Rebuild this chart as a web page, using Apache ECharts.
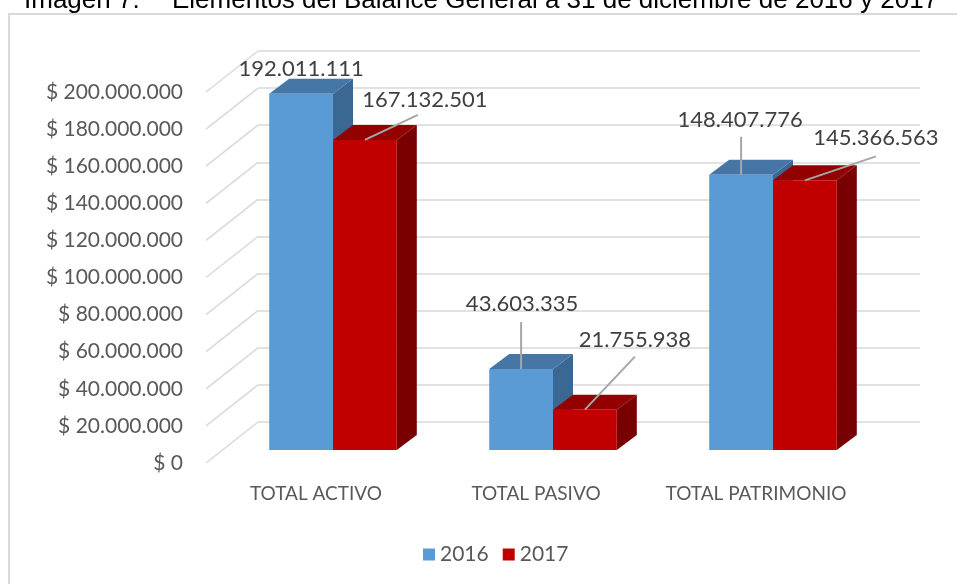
<!DOCTYPE html>
<html>
<head>
<meta charset="utf-8">
<script src="https://cdn.jsdelivr.net/npm/echarts@6/dist/echarts.min.js"></script>
<style>
  html, body { margin: 0; padding: 0; background: #fff; }
  #chart { width: 957px; height: 584px; }
</style>
</head>
<body>
<div id="chart"></div>
<script>
var categories = ["TOTAL ACTIVO", "TOTAL PASIVO", "TOTAL PATRIMONIO"];
var years = ["2016", "2017"];
var values2016 = [192011111, 43603335, 148407776];
var values2017 = [167132501, 21755938, 145366563];
var yTicks = [0, 20000000, 40000000, 60000000, 80000000, 100000000,
  120000000, 140000000, 160000000, 180000000, 200000000];

var FONT = "Lato, 'Noto Sans', sans-serif";
// fake 3d: offsets of the back wall, bar front face and bar depth
var WALL_DX = 52, WALL_DY = -41;
var BAR_DX = 17, BAR_DY = -13;
var DEPTH_DX = 20, DEPTH_DY = -15;
// label placement per bar: [labelDx, labelDy, lineDx, lineDy] from front-top centre
var labelPos2016 = [[0, -25, 0, 0], [1, -65, 0, -47], [-1, -55, 0, -38]];
var labelPos2017 = [[60, -40, 53, -25], [50, -70, 50, -53], [71, -42, 71, -24]];

var blueFaces = { front: "#5B9BD5", top: "#4576A6", side: "#3B6793" };
var redFaces = { front: "#C00000", top: "#920000", side: "#780000" };

function fmt(v) {
  return String(v).replace(/\B(?=(\d{3})+(?!\d))/g, ".");
}

function barRenderer(side, faces, labelPos) {
  return function (params, api) {
    var idx = api.value(0), val = api.value(1);
    var top = api.coord([idx, val]);
    var base = api.coord([idx, 0]);
    var band = api.size([1, 0])[0];
    var w = band * 0.29;
    var x0 = top[0] + (side < 0 ? -w : 0) + BAR_DX;
    var x1 = x0 + w;
    var yt = top[1] + BAR_DY, yb = base[1] + BAR_DY;
    var kids = [
      { type: "polygon", shape: { points: [[x1, yb], [x1 + DEPTH_DX, yb + DEPTH_DY], [x1 + DEPTH_DX, yt + DEPTH_DY], [x1, yt]] }, style: { fill: faces.side } },
      { type: "polygon", shape: { points: [[x0, yt], [x0 + DEPTH_DX, yt + DEPTH_DY], [x1 + DEPTH_DX, yt + DEPTH_DY], [x1, yt]] }, style: { fill: faces.top } },
      { type: "rect", shape: { x: x0, y: yt, width: w, height: yb - yt }, style: { fill: faces.front } }
    ];
    var cx = (x0 + x1) / 2;
    var lp = labelPos[params.dataIndex];
    if (lp[2] || lp[3]) {
      kids.push({ type: "line", shape: { x1: cx, y1: yt, x2: cx + lp[2], y2: yt + lp[3] }, style: { stroke: "#A6A6A6", lineWidth: 2 } });
    }
    kids.push({
      type: "text", x: cx + lp[0], y: yt + lp[1],
      style: { text: fmt(val), fill: "#404040", fontSize: 22, fontFamily: FONT, align: "center", verticalAlign: "middle" }
    });
    return { type: "group", children: kids };
  };
}

var chart = echarts.init(document.getElementById("chart"));
var option = {
  animation: false,
  backgroundColor: "#fff",
  graphic: [
    { type: "rect", shape: { x: 9, y: 14, width: 1000, height: 700 }, style: { fill: "none", stroke: "#D9D9D9", lineWidth: 2 } },
    { type: "text", x: 24, y: 14, style: { text: "Imagen 7.", fontSize: 26, fontFamily: "'Liberation Sans', Arial", fill: "#000", verticalAlign: "bottom" } },
    { type: "text", x: 172, y: 14, style: { text: "Elementos del Balance General a 31 de diciembre de 2016 y 2017", fontSize: 26, fontFamily: "'Liberation Sans', Arial", fill: "#000", verticalAlign: "bottom" } }
  ],
  legend: {
    data: years,
    icon: "rect",
    itemWidth: 12,
    itemHeight: 12,
    itemGap: 14,
    left: 418,
    top: 539,
    textStyle: { fontSize: 21, color: "#595959", fontFamily: FONT }
  },
  grid: [
    { left: 206, right: 91, top: 92, bottom: 121 },
    { left: 258, right: 37, top: 51, bottom: 162 }
  ],
  xAxis: [
    {
      type: "category", gridIndex: 0, data: categories,
      axisLine: { show: false }, axisTick: { show: false }, splitLine: { show: false },
      axisLabel: { color: "#595959", fontSize: 19, fontFamily: FONT, margin: 21, interval: 0 }
    },
    { type: "category", gridIndex: 1, data: categories, show: false }
  ],
  yAxis: [
    {
      type: "value", gridIndex: 0, min: 0, max: 200000000, interval: 20000000,
      axisLine: { show: false }, axisTick: { show: false }, splitLine: { show: false },
      axisLabel: { color: "#595959", fontSize: 21, fontFamily: FONT, margin: 23, formatter: function (v) { return "$ " + fmt(v); } }
    },
    {
      type: "value", gridIndex: 1, min: 0, max: 200000000, interval: 20000000,
      axisLine: { show: false }, axisTick: { show: false }, axisLabel: { show: false },
      splitLine: { lineStyle: { color: "#D9D9D9", width: 1.5 } }
    }
  ],
  series: [
    {
      type: "custom", name: "floor", xAxisIndex: 0, yAxisIndex: 0, silent: true, z: 1,
      data: yTicks.map(function (v) { return [0, v]; }),
      renderItem: function (params, api) {
        var p = api.coord([0, api.value(1)]);
        var x = p[0] - api.size([1, 0])[0] / 2;
        return { type: "line", shape: { x1: x, y1: p[1], x2: x + WALL_DX, y2: p[1] + WALL_DY }, style: { stroke: "#D9D9D9", lineWidth: 1.5 } };
      }
    },
    {
      type: "custom", name: years[0], xAxisIndex: 0, yAxisIndex: 0, z: 2,
      itemStyle: { color: blueFaces.front },
      data: values2016.map(function (v, i) { return [i, v]; }),
      renderItem: barRenderer(-1, blueFaces, labelPos2016)
    },
    {
      type: "custom", name: years[1], xAxisIndex: 0, yAxisIndex: 0, z: 3,
      itemStyle: { color: redFaces.front },
      data: values2017.map(function (v, i) { return [i, v]; }),
      renderItem: barRenderer(1, redFaces, labelPos2017)
    }
  ]
};
chart.setOption(option);
window.addEventListener("resize", chart.resize);
</script>
</body>
</html>
